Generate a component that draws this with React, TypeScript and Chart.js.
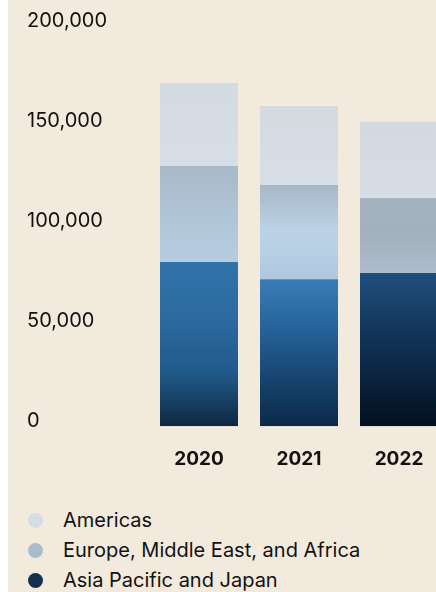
import React, { useEffect, useRef } from "react";
import { Chart, registerables } from "chart.js";

Chart.register(...registerables);

// ---- data ----
const years = ["2020", "2021", "2022"];
const asiaPacificJapan = [82000, 73500, 76500];
const europeMiddleEastAfrica = [48000, 47000, 37500];
const americas = [41500, 39500, 38200];
const yMin = 0;
const yMax = 200000;
const yStep = 50000;
const legendLabels = ["Americas", "Europe, Middle East, and Africa", "Asia Pacific and Japan"];

// ---- styles ----
const BG = "#f2eadc";
const TEXT = "#121212";
const FONT = "Inter, 'Noto Sans', sans-serif";
const legendColors = ["#d5dce4", "#a9bccb", "#13304f"];
// vertical gradient stops (top -> bottom) per year for each series
const apjStops = [
  ["#3173a9", "#2c6a9f", "#225a8a", "#0c2843"],
  ["#3a7cb5", "#26639a", "#174571", "#0b2a48"],
  ["#204f7c", "#14385e", "#0b2440", "#03101c"],
];
const emeaStops = [
  ["#a8b9c7", "#afc4d6", "#b6cde1"],
  ["#a7b8c8", "#bcd3e7", "#b0c8de"],
  ["#a3b2be", "#a2b1bd", "#abbccb"],
];
const amStops = [
  ["#d3dae1", "#d7dee5"],
  ["#d4dae0", "#d8dee5"],
  ["#d3d9e0", "#d7dde4"],
];

function makeGradientFill(stops: string[][], fallback: string) {
  return (ctx: any) => {
    if (ctx.type !== "data") return fallback;
    const chart = ctx.chart;
    const yScale = chart.scales && chart.scales.y;
    if (!chart.chartArea || !yScale) return fallback;
    const di = ctx.datasetIndex;
    const i = ctx.dataIndex;
    let base = 0;
    for (let d = 0; d < di; d++) base += chart.data.datasets[d].data[i] as number;
    const top = base + (chart.data.datasets[di].data[i] as number);
    const y0 = yScale.getPixelForValue(top);
    const y1 = yScale.getPixelForValue(base);
    const g = chart.ctx.createLinearGradient(0, y0, 0, y1);
    const s = stops[i];
    s.forEach((c, k) => g.addColorStop(s.length === 1 ? 0 : k / (s.length - 1), c));
    return g;
  };
}

export default function App() {
  const canvasRef = useRef<HTMLCanvasElement | null>(null);

  useEffect(() => {
    if (!canvasRef.current) return;
    const chart = new Chart(canvasRef.current, {
      type: "bar",
      data: {
        labels: years,
        datasets: [
          {
            label: legendLabels[2],
            data: asiaPacificJapan,
            backgroundColor: makeGradientFill(apjStops, legendColors[2]),
            borderWidth: 0,
          },
          {
            label: legendLabels[1],
            data: europeMiddleEastAfrica,
            backgroundColor: makeGradientFill(emeaStops, legendColors[1]),
            borderWidth: 0,
          },
          {
            label: legendLabels[0],
            data: americas,
            backgroundColor: makeGradientFill(amStops, legendColors[0]),
            borderWidth: 0,
          },
        ],
      },
      options: {
        responsive: false,
        animation: false,
        layout: { padding: { left: 19, right: 9, top: 26, bottom: 0 } },
        datasets: { bar: { barPercentage: 1, categoryPercentage: 0.78 } },
        plugins: {
          legend: { display: false },
          tooltip: { enabled: false },
        },
        scales: {
          x: {
            stacked: true,
            grid: { display: false, drawTicks: false },
            border: { display: false },
            ticks: {
              padding: 22,
              color: TEXT,
              font: { family: FONT, size: 19, weight: "bold", lineHeight: 1.2 },
            },
          },
          y: {
            stacked: true,
            min: yMin,
            max: yMax,
            grid: { display: false, drawTicks: false },
            border: { display: false },
            afterFit: (scale: any) => {
              scale.width = 122;
            },
            ticks: {
              stepSize: yStep,
              crossAlign: "far",
              labelOffset: -5,
              color: TEXT,
              font: { family: FONT, size: 20, lineHeight: 1.2 },
              callback: (v: any) => Number(v).toLocaleString("en-US"),
            },
          },
        },
      } as any,
    });
    return () => chart.destroy();
  }, []);

  return (
    <div
      style={{
        position: "fixed",
        top: 0,
        left: 8,
        right: 0,
        bottom: 0,
        overflow: "hidden",
        background: BG,
        fontFamily: FONT,
      }}
    >
      <div style={{ position: "absolute", left: 0, top: 0, width: 450, height: 493 }}>
        <canvas ref={canvasRef} width={450} height={493} style={{ width: 450, height: 493, display: "block" }} />
      </div>
      <div style={{ position: "absolute", left: 20, top: 505 }}>
        {legendLabels.map((name, k) => (
          <div key={name} style={{ display: "flex", alignItems: "center", height: 30 }}>
            <span
              style={{
                display: "inline-block",
                width: 15,
                height: 15,
                borderRadius: "50%",
                background: legendColors[k],
                marginRight: 20,
                flex: "none",
              }}
            />
            <span style={{ fontSize: 20, color: TEXT, lineHeight: "30px", whiteSpace: "nowrap" }}>{name}</span>
          </div>
        ))}
      </div>
    </div>
  );
}
